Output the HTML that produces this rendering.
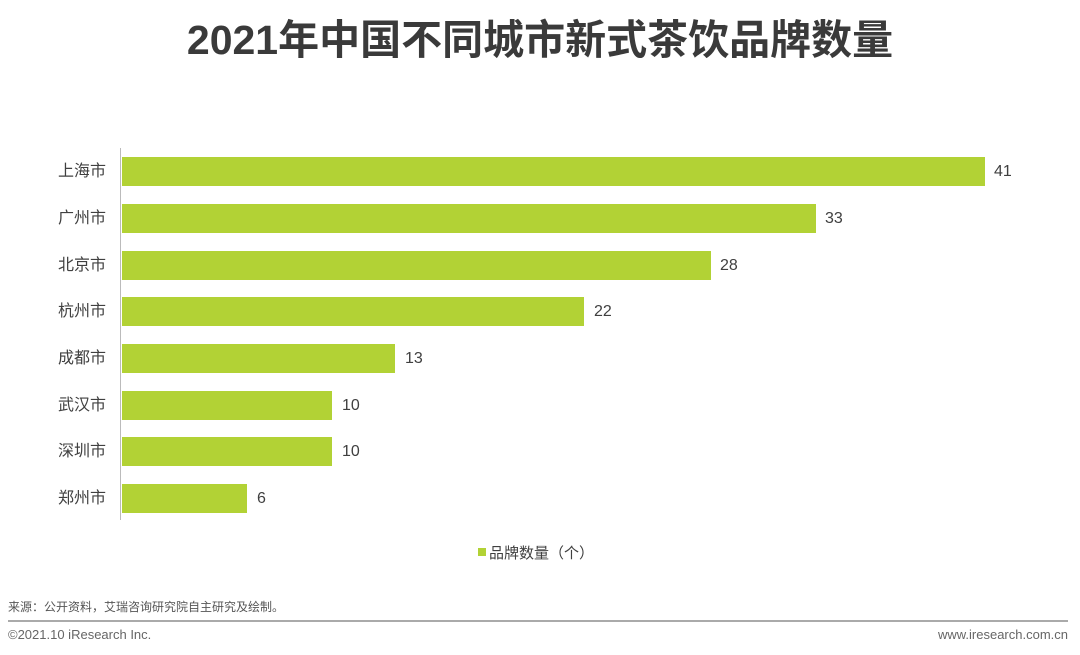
<!DOCTYPE html>
<html><head><meta charset="utf-8"><style>
body{margin:0;width:1080px;height:655px;background:#fff;position:relative;overflow:hidden;font-family:"Liberation Sans","Noto Sans CJK SC",sans-serif;color:#333}
.t{position:absolute;white-space:nowrap}
.bar{position:absolute;left:122px;height:29px;background:#b2d235}
.lab{position:absolute;font-size:16px;color:#404040;text-align:right;line-height:20px}
.v{position:absolute;font-size:16px;color:#404040;line-height:20px}
</style></head><body>
<div class="t" style="left:0;width:1080px;text-align:center;top:15px;font-size:41px;font-weight:bold;color:#3a3a3a;line-height:50px">2021年中国不同城市新式茶饮品牌数量</div>
<div style="position:absolute;left:120px;top:148px;width:1px;height:372px;background:#bbb"></div>
<div class="bar" style="top:157px;width:863px"></div><div class="lab" style="left:0;width:106px;top:162px">上海市</div><div class="v" style="left:994px;top:162px">41</div>
<div class="bar" style="top:204px;width:694px"></div><div class="lab" style="left:0;width:106px;top:209px">广州市</div><div class="v" style="left:825px;top:209px">33</div>
<div class="bar" style="top:251px;width:589px"></div><div class="lab" style="left:0;width:106px;top:256px">北京市</div><div class="v" style="left:720px;top:256px">28</div>
<div class="bar" style="top:297px;width:462px"></div><div class="lab" style="left:0;width:106px;top:302px">杭州市</div><div class="v" style="left:594px;top:302px">22</div>
<div class="bar" style="top:344px;width:273px"></div><div class="lab" style="left:0;width:106px;top:349px">成都市</div><div class="v" style="left:405px;top:349px">13</div>
<div class="bar" style="top:391px;width:210px"></div><div class="lab" style="left:0;width:106px;top:396px">武汉市</div><div class="v" style="left:342px;top:396px">10</div>
<div class="bar" style="top:437px;width:210px"></div><div class="lab" style="left:0;width:106px;top:442px">深圳市</div><div class="v" style="left:342px;top:442px">10</div>
<div class="bar" style="top:484px;width:125px"></div><div class="lab" style="left:0;width:106px;top:489px">郑州市</div><div class="v" style="left:257px;top:489px">6</div>
<div style="position:absolute;left:478px;top:548px;width:8px;height:8px;background:#b2d235"></div>
<div class="t" style="left:489px;top:542px;font-size:15px;color:#404040">品牌数量（个）</div>
<div class="t" style="left:8px;top:598px;font-size:12px;color:#555">来源：公开资料，艾瑞咨询研究院自主研究及绘制。</div>
<div style="position:absolute;left:8px;top:620px;width:1060px;height:2px;background:#aaa"></div>
<div class="t" style="left:8px;top:627px;font-size:13px;color:#666">©2021.10 iResearch Inc.</div>
<div class="t" style="right:12px;top:627px;font-size:13px;color:#666">www.iresearch.com.cn</div>
</body></html>
